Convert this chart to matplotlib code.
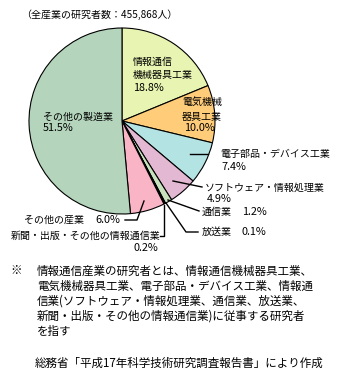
import matplotlib
matplotlib.use("Agg")
import matplotlib.pyplot as plt

plt.rcParams['font.family'] = ['Noto Sans CJK JP', 'DejaVu Sans']

categories = ["情報通信機械器具工業", "電気機械器具工業", "電子部品・デバイス工業",
              "ソフトウェア・情報処理業", "通信業", "放送業",
              "新聞・出版・その他の情報通信業", "その他の産業", "その他の製造業"]
values = [18.8, 10.0, 7.4, 4.9, 1.2, 0.1, 0.2, 6.0, 51.5]
pct_labels = ["18.8%", "10.0%", "7.4%", "4.9%", "1.2%", "0.1%", "0.2%", "6.0%", "51.5%"]
colors = ["#E8F5B2", "#FFCC7A", "#B4E3E4", "#E2B8D2", "#C8E2BE", "#E0E0E0",
          "#404040", "#F9B4C6", "#B4D5BC"]
title = "（全産業の研究者数：455,868人）"
note_lines = ["情報通信産業の研究者とは、情報通信機械器具工業、",
              "電気機械器具工業、電子部品・デバイス工業、情報通",
              "信業(ソフトウェア・情報処理業、通信業、放送業、",
              "新聞・出版・その他の情報通信業)に従事する研究者",
              "を指す"]
source = "総務省「平成17年科学技術研究調査報告書」により作成"

W, H = 340, 371
fig = plt.figure(figsize=(W / 100, H / 100), dpi=100)
ax = fig.add_axes([0, 0, 1, 1])

def Y(y):
    return H - y

cx, cy, r = 122, 121, 93
ax.pie(values, colors=colors, startangle=90, counterclock=False,
       center=(cx, Y(cy)), radius=r,
       wedgeprops=dict(edgecolor="black", linewidth=0.8))
ax.set_xlim(0, W)
ax.set_ylim(0, H)
ax.set_aspect('equal')
ax.axis('off')

fs = 7.2
fp = 7.8
fn = 8.3

def t(x, y, s, ha='left', size=fs):
    ax.text(x, Y(y), s, fontsize=size, va='center', ha=ha)

t(21, 15, title)

# inside labels
t(133, 62, "情報通信")
t(133, 75, "機械器具工業")
t(133, 88, pct_labels[0], size=fp)
t(182, 102, "電気機械")
t(182, 117, "器具工業")
t(184, 128, pct_labels[1], size=fp)
t(43, 117, categories[8])
t(43, 128, pct_labels[8], size=fp)

lw = 1.0
# 電子部品
ax.plot([190, 208], [Y(154), Y(154)], color='black', lw=lw)
t(220, 154, categories[2])
t(221, 167, pct_labels[2], size=fp)
# ソフトウェア
ax.plot([173, 202], [Y(181), Y(187)], color='black', lw=lw)
t(205, 188, categories[3])
t(207, 199, pct_labels[3], size=fp)
# 通信業
ax.plot([168, 199], [Y(200), Y(211)], color='black', lw=lw)
t(202, 212, categories[4])
t(242, 212, pct_labels[4], size=fp)
# 放送業
ax.plot([166, 186, 198], [Y(203), Y(232), Y(232)], color='black', lw=lw)
t(202, 232, categories[5])
t(242, 232, pct_labels[5], size=fp)
# 新聞
ax.plot([164, 164, 160], [Y(205), Y(236), Y(236)], color='black', lw=lw)
t(160, 236, categories[6], ha='right')
t(133, 248, pct_labels[6], size=fp)
# その他の産業
ax.plot([144, 137, 125], [Y(201), Y(220), Y(220)], color='black', lw=lw)
t(84, 220, categories[7], ha='right')
t(95, 220, pct_labels[7], size=fp)

# footnote
t(10, 271, "※", size=fn)
for i, line in enumerate(note_lines):
    t(37, 271 + i * 15, line, size=fn)
t(35, 363, source, size=fn)

fig.savefig("out.png", dpi=100)
